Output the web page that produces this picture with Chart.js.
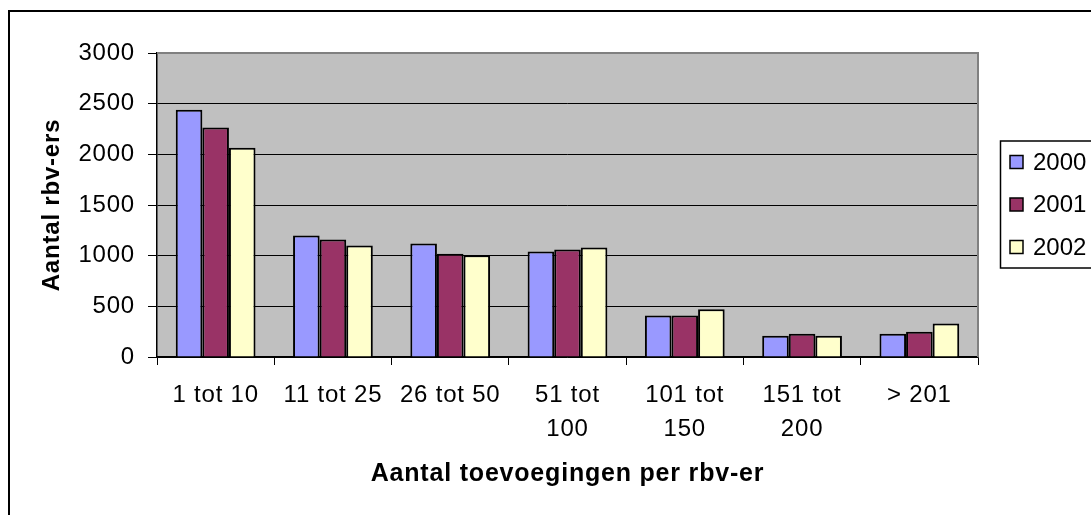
<!DOCTYPE html>
<html>
<head>
<meta charset="utf-8">
<script src="https://cdn.jsdelivr.net/npm/chart.js@4/dist/chart.umd.min.js"></script>
<style>
  body { margin: 0; background: #fff; }
  #wrap { width: 1091px; height: 515px; }
</style>
</head>
<body>
<div id="wrap"><canvas id="chart" width="1091" height="515"></canvas></div>
<script>
// Data
const categories = ['1 tot 10', '11 tot 25', '26 tot 50', ['51 tot', '100'], ['101 tot', '150'], ['151 tot', '200'], '> 201'];
const years = ['2000', '2001', '2002'];
const values2000 = [2440, 1200, 1120, 1040, 410, 210, 230];
const values2001 = [2265, 1160, 1020, 1060, 410, 230, 250];
const values2002 = [2065, 1100, 1005, 1080, 470, 210, 330];
const yTicks = [0, 500, 1000, 1500, 2000, 2500, 3000];

const colors = ['#9999FF', '#993366', '#FFFFCC'];
const FONT = "'Liberation Sans', Arial, sans-serif";

// Grey plot background, outer frame and the boxed legend on the right
const framePlugin = {
    id: 'frame',
    beforeDraw(chart) {
        const ctx = chart.ctx;
        const a = chart.chartArea;
        ctx.save();
        ctx.fillStyle = '#ffffff';
        ctx.fillRect(0, 0, chart.width, chart.height);
        ctx.fillStyle = '#C0C0C0';
        ctx.fillRect(a.left, a.top, a.right - a.left, a.bottom - a.top);
        ctx.strokeStyle = '#000';
        ctx.lineWidth = 2;
        ctx.strokeRect(9, 11, chart.width + 20, chart.height + 20);
        ctx.restore();
        ctx.letterSpacing = '0.8px';  // the old renderer spaced its letters a bit wider
    },
    afterDraw(chart) {
        const ctx = chart.ctx;
        const a = chart.chartArea;
        ctx.letterSpacing = '0px';
        ctx.save();
        // grey edge on top and right of plot area
        ctx.strokeStyle = '#808080';
        ctx.lineWidth = 2;
        ctx.beginPath();
        ctx.moveTo(a.left, a.top);
        ctx.lineTo(a.right, a.top);
        ctx.lineTo(a.right, a.bottom);
        ctx.stroke();

        // legend box
        ctx.strokeStyle = '#000';
        ctx.lineWidth = 1.5;
        ctx.strokeRect(1000.5, 141, 120, 127);
        ctx.font = '24px ' + FONT;
        ctx.textBaseline = 'middle';
        ctx.textAlign = 'left';
        chart.data.datasets.forEach((ds, i) => {
            const y = 162 + i * 42.5;
            ctx.fillStyle = ds.backgroundColor;
            ctx.fillRect(1010, y - 6.5, 13, 13);
            ctx.strokeStyle = '#000';
            ctx.lineWidth = 1.5;
            ctx.strokeRect(1010, y - 6.5, 13, 13);
            ctx.fillStyle = '#000';
            ctx.fillText(ds.label, 1033, y + 1);
        });
        ctx.restore();
    }
};

const ctx = document.getElementById('chart').getContext('2d');
const chart = new Chart(ctx, {
    type: 'bar',
    data: {
        labels: categories,
        datasets: [
            { label: years[0], data: values2000, backgroundColor: colors[0] },
            { label: years[1], data: values2001, backgroundColor: colors[1] },
            { label: years[2], data: values2002, backgroundColor: colors[2] }
        ].map(ds => Object.assign(ds, {
            borderColor: '#000',
            borderWidth: 2,
            barPercentage: 1,
            categoryPercentage: 0.68
        }))
    },
    options: {
        responsive: false,
        animation: false,
        layout: { padding: { left: 0, top: 53, right: 113, bottom: 0 } },
        plugins: {
            legend: { display: false },
            tooltip: { enabled: false }
        },
        scales: {
            x: {
                afterFit(scale) { scale.height = 158; },
                grid: {
                    display: true,
                    offset: true,
                    drawOnChartArea: false,
                    drawTicks: true,
                    tickLength: 8,
                    color: '#000'
                },
                border: { display: true, color: '#000', width: 1.5 },
                ticks: {
                    color: '#000',
                    maxRotation: 0,
                    autoSkip: false,
                    padding: 13,
                    font: { family: FONT, size: 24, lineHeight: 1.42 }
                },
                title: {
                    display: true,
                    text: 'Aantal toevoegingen per rbv-er',
                    color: '#000',
                    padding: { top: 4, bottom: 26 },
                    font: { family: FONT, size: 25, weight: 'bold' }
                }
            },
            y: {
                min: 0,
                max: 3000,
                afterFit(scale) { scale.width = 157; },
                afterBuildTicks(scale) { scale.ticks = yTicks.map(v => ({ value: v })); },
                grid: {
                    color: '#000',
                    lineWidth: 1,
                    drawTicks: true,
                    tickLength: 9
                },
                border: { display: true, color: '#000', width: 1.5 },
                ticks: {
                    color: '#000',
                    padding: 13,
                    callback: v => String(v),
                    font: { family: FONT, size: 24 }
                },
                title: {
                    display: true,
                    text: 'Aantal rbv-ers',
                    color: '#000',
                    padding: { top: 38, bottom: 4 },
                    font: { family: FONT, size: 24, weight: 'bold' }
                }
            }
        }
    },
    plugins: [framePlugin]
});
</script>
</body>
</html>
